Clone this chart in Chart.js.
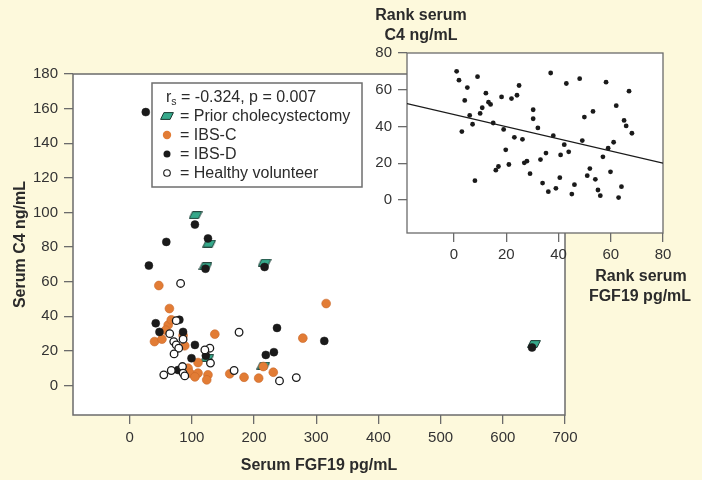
<!DOCTYPE html>
<html><head><meta charset="utf-8">
<script src="https://cdn.jsdelivr.net/npm/chart.js@4.4.1/dist/chart.umd.min.js"></script>
<style>
html,body{margin:0;padding:0;background:#fdf9dc;}
#wrap{position:relative;width:702px;height:480px;overflow:hidden;}
#wrap canvas{position:absolute;left:0;top:0;}
</style></head><body>
<div id="wrap"><canvas id="main" width="702" height="480"></canvas><canvas id="inset" width="702" height="480"></canvas></div>
<script>
// ---------- Main chart data (Serum FGF19 pg/mL vs Serum C4 ng/mL) ----------
const cholX = [106, 128, 122, 217, 125, 215, 650];
const cholY = [98.5, 82, 69, 71, 16, 11.5, 24];
const ibsdX = [26, 105, 126, 122, 217, 59, 31, 42, 80, 48, 86, 105, 99.5, 122.6, 78, 237, 313, 219, 232, 647];
const ibsdY = [158, 93, 85, 67.5, 68.5, 83, 69.3, 36, 38, 31, 31, 23.5, 15.8, 17.3, 9, 33.3, 25.8, 17.7, 19.3, 22];
const ibscX = [47, 64, 62, 67, 40, 52, 58, 86, 88.7, 137, 110, 94, 97, 110, 105, 126, 124, 161, 184, 207.5, 215, 231, 278.5, 316];
const ibscY = [57.8, 44.5, 35, 38, 25.4, 26.8, 32, 29, 23, 29.7, 13.3, 10, 7.2, 7.2, 5, 6.2, 3.3, 6.8, 4.8, 4.3, 11, 7.7, 27.4, 47.4];
const hvX = [82, 75, 64.5, 71, 75, 79, 86, 71.5, 129, 121, 130, 85, 86, 67, 55, 88.7, 168, 176, 241, 268];
const hvY = [59, 37.5, 30, 25.4, 23.5, 21.6, 26.8, 18.3, 21.6, 20.6, 13, 11, 7.2, 8.7, 6.2, 5.6, 8.7, 30.8, 2.7, 4.6];
const mainXTicks = [0, 100, 200, 300, 400, 500, 600, 700];
const mainYTicks = [0, 20, 40, 60, 80, 100, 120, 140, 160, 180];
const statsText = ['r', 's', ' = -0.324, p = 0.007'];
const legendLabels = ['= Prior cholecystectomy', '= IBS-C', '= IBS-D', '= Healthy volunteer'];

// ---------- Inset data (ranks) ----------
const rankX = [1.0,1.9,5.1,9.0,4.1,6.0,3.0,7.1,10,10.8,12.2,13.2,14,8,15,18.2,19,19.8,16,17,21,22,23.1,24.1,24.9,26.2,26.9,27.9,29.1,30.3,30.3,32.1,33.1,33.9,35.2,36.1,37,38,39,40.5,40.8,42.2,43,43.9,45.1,46.1,48.1,49.1,49.9,51,52,53.2,54.1,55.1,56,57,58.2,59,59.9,61.1,62.1,63,64.1,65.1,65.9,67,68.1];
const rankY = [70,65.2,61.2,67.1,54.2,46,37.2,41.2,47.1,50.2,58.1,53.2,52,10.5,41.9,56.1,38.4,27.3,16.2,18.2,19.3,55.2,34.1,57,62.3,33,20.2,21.1,14.3,49.1,44.2,39.2,22,9.2,25.5,4.5,69.1,35,6.3,12.1,24.5,30.1,63.4,26.2,3.2,8.3,66,32.3,45.1,13.2,17.1,48.2,11.2,5.4,2.3,23.5,64.1,28.2,15.3,31.4,51.3,1.3,7.2,43.3,40.3,59.2,36.3];
const fitX = [-18, 80];
const fitY = [52.5, 20];
const insetTicks = [0, 20, 40, 60, 80];
const insetYTitle = ['Rank serum', 'C4 ng/mL'];
const insetXTitle = ['Rank serum', 'FGF19 pg/mL'];

const FONT = '"Liberation Sans", Arial, Helvetica, sans-serif';
const CREAM = '#fdf9dc';
const AXIS = '#6b6b6b';
const TXT = '#2b2b2b';
const GREEN = '#36a98b', GREEN_EDGE = '#1c3a33';
const ORANGE = '#e27c35';
const BLACK = '#1a1a1a';

function pts(xs, ys) { return xs.map((x, i) => ({x: x, y: ys[i]})); }

function makeParallelogram(w, h) {
  const c = document.createElement('canvas');
  c.width = w; c.height = h;
  const g = c.getContext('2d');
  g.beginPath();
  g.moveTo(w * 0.28, 0.6);
  g.lineTo(w - 0.6, 0.6);
  g.lineTo(w * 0.72, h - 0.6);
  g.lineTo(0.6, h - 0.6);
  g.closePath();
  g.fillStyle = GREEN; g.fill();
  g.strokeStyle = GREEN_EDGE; g.lineWidth = 1; g.stroke();
  return c;
}
const diamond = makeParallelogram(14, 8);

const plotBg = {
  id: 'plotBg',
  beforeDraw(chart, args, opts) {
    const {ctx, chartArea: a} = chart;
    ctx.save();
    if (opts.page) { ctx.fillStyle = opts.page; ctx.fillRect(0, 0, chart.width, chart.height); }
    ctx.fillStyle = '#ffffff';
    ctx.fillRect(a.left, a.top, a.right - a.left, a.bottom - a.top);
    ctx.restore();
  },
  beforeDatasetsDraw(chart, args, opts) {
    const {ctx, chartArea: a} = chart;
    ctx.save();
    ctx.strokeStyle = AXIS; ctx.lineWidth = opts.width || 1.4;
    ctx.strokeRect(a.left, a.top, a.right - a.left, a.bottom - a.top);
    ctx.restore();
  }
};

const legendBox = {
  id: 'legendBox',
  afterDatasetsDraw(chart) {
    const {ctx, chartArea: a} = chart;
    const L = a.left + 79, T = a.top + 9, W = 210, H = 104;
    ctx.save();
    ctx.fillStyle = '#ffffff'; ctx.fillRect(L, T, W, H);
    ctx.strokeStyle = '#6e6e6e'; ctx.lineWidth = 1.5; ctx.strokeRect(L, T, W, H);
    ctx.fillStyle = TXT; ctx.textAlign = 'left';
    const fs = 16;
    // stats line
    ctx.textBaseline = 'alphabetic';
    let x = L + 14, base = T + 18.5;
    ctx.font = fs + 'px ' + FONT;
    ctx.fillText(statsText[0], x, base); x += ctx.measureText(statsText[0]).width;
    ctx.font = '10.5px ' + FONT;
    ctx.fillText(statsText[1], x, base + 3.5); x += ctx.measureText(statsText[1]).width;
    ctx.font = fs + 'px ' + FONT;
    ctx.fillText(statsText[2], x, base);
    // entries
    const rows = [T + 33, T + 52, T + 71, T + 90];
    const mx = L + 15, tx = L + 28;
    ctx.textBaseline = 'middle';
    legendLabels.forEach((t, i) => ctx.fillText(t, tx, rows[i] + 0.5));
    ctx.drawImage(diamond, mx - 7, rows[0] - 4);
    ctx.beginPath(); ctx.arc(mx, rows[1], 4.2, 0, Math.PI * 2); ctx.fillStyle = ORANGE; ctx.fill();
    ctx.beginPath(); ctx.arc(mx, rows[2], 3.5, 0, Math.PI * 2); ctx.fillStyle = BLACK; ctx.fill();
    ctx.beginPath(); ctx.arc(mx, rows[3], 3.3, 0, Math.PI * 2); ctx.fillStyle = '#fff'; ctx.fill();
    ctx.strokeStyle = BLACK; ctx.lineWidth = 1.1; ctx.stroke();
    ctx.restore();
  }
};

function axisCfg(min, max, tickVals, size, titleText, titlePad, tickPad) {
  return {
    type: 'linear', min: min, max: max,
    afterFit(s) { if (s.isHorizontal()) s.height = size; else s.width = size; },
    afterBuildTicks(s) { s.ticks = tickVals.map(v => ({value: v})); },
    grid: {drawOnChartArea: false, drawTicks: true, tickLength: 9, color: AXIS, lineWidth: 1.3},
    border: {display: false},
    ticks: {padding: tickPad, color: '#333', font: {family: FONT, size: 15}, maxRotation: 0, autoSkip: false},
    title: titleText ? {display: true, text: titleText, color: TXT, font: {family: FONT, size: 16, weight: 'bold'}, padding: titlePad} : {display: false}
  };
}

new Chart(document.getElementById('main'), {
  type: 'scatter',
  data: {
    datasets: [
      {label: 'Prior cholecystectomy', data: pts(cholX, cholY), pointStyle: diamond, pointRadius: 7, order: 4},
      {label: 'IBS-C', data: pts(ibscX, ibscY), backgroundColor: ORANGE, borderColor: '#c9682a', borderWidth: 0.6, pointRadius: 4.4, order: 3},
      {label: 'IBS-D', data: pts(ibsdX, ibsdY), backgroundColor: BLACK, borderColor: BLACK, borderWidth: 0.5, pointRadius: 4, order: 2},
      {label: 'Healthy volunteer', data: pts(hvX, hvY), backgroundColor: '#ffffff', borderColor: BLACK, borderWidth: 1.3, pointRadius: 3.8, order: 1}
    ]
  },
  options: {
    responsive: false, animation: false, devicePixelRatio: 1,
    layout: {padding: {top: 74, right: 137, left: 0, bottom: 0}},
    plugins: {legend: {display: false}, tooltip: {enabled: false}, plotBg: {page: CREAM, width: 1.5}},
    scales: {
      x: axisCfg(-91, 700, mainXTicks, 65, 'Serum FGF19 pg/mL', {top: 0, bottom: 5}, 5),
      y: axisCfg(-17, 180, mainYTicks, 73, 'Serum C4 ng/mL', {top: 11, bottom: 0}, 6)
    }
  },
  plugins: [plotBg, legendBox]
});

const insetTitles = {
  id: 'insetTitles',
  afterDraw(chart) {
    const {ctx, chartArea: a} = chart;
    ctx.save();
    ctx.fillStyle = TXT; ctx.textAlign = 'center'; ctx.textBaseline = 'middle';
    ctx.font = 'bold 16px ' + FONT;
    ctx.fillText(insetYTitle[0], a.left + 14, a.top - 37);
    ctx.fillText(insetYTitle[1], a.left + 14, a.top - 17);
    ctx.fillText(insetXTitle[0], a.right - 22, a.bottom + 44);
    ctx.fillText(insetXTitle[1], a.right - 23, a.bottom + 64);
    ctx.restore();
  }
};

new Chart(document.getElementById('inset'), {
  type: 'scatter',
  data: {
    datasets: [
      {label: 'ranks', data: pts(rankX, rankY), backgroundColor: BLACK, borderColor: BLACK, borderWidth: 0, pointRadius: 2.4},
      {label: 'fit', data: pts(fitX, fitY), showLine: true, borderColor: BLACK, borderWidth: 1.3, pointRadius: 0, fill: false}
    ]
  },
  options: {
    responsive: false, animation: false, devicePixelRatio: 1,
    layout: {padding: {top: 53, right: 39, left: 0, bottom: 0}},
    plugins: {legend: {display: false}, tooltip: {enabled: false}, plotBg: {width: 1.3}},
    scales: {
      x: axisCfg(-18, 80, insetTicks, 247, null, null, 4),
      y: axisCfg(-18, 80, insetTicks, 407, null, null, 6)
    }
  },
  plugins: [plotBg, insetTitles]
});
</script>
</body></html>
